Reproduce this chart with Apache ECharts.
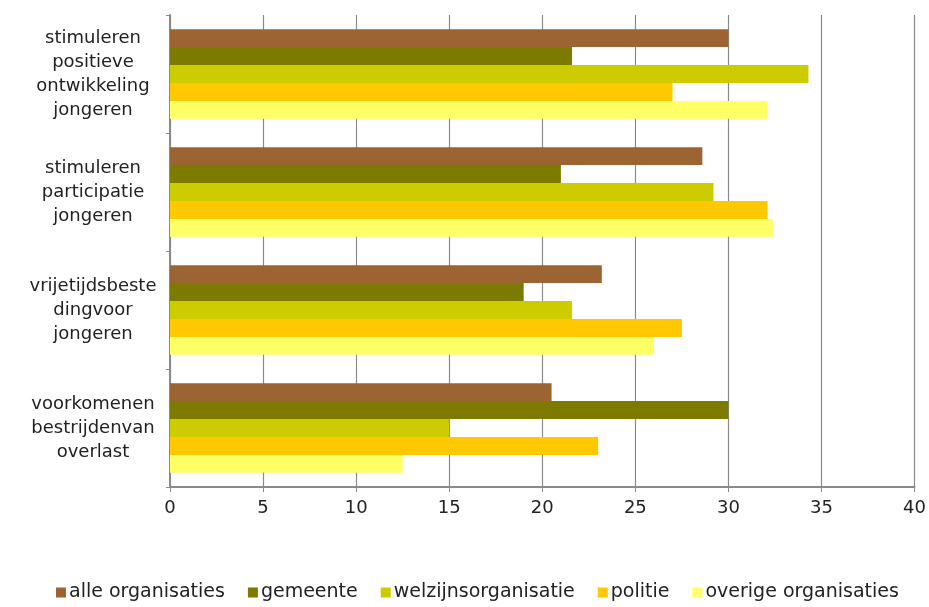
<!DOCTYPE html>
<html>
<head>
<meta charset="utf-8">
<script src="https://cdn.jsdelivr.net/npm/echarts@6/dist/echarts.min.js"></script>
<style>
  html, body { margin: 0; padding: 0; background: #fff; }
  #chart { width: 929px; height: 607px; }
</style>
</head>
<body>
<div id="chart"></div>
<script>
// Themes (top to bottom)
const categories = [
  'stimuleren\npositieve\nontwikkeling\njongeren',
  'stimuleren\nparticipatie\njongeren',
  'vrijetijdsbeste\ndingvoor\njongeren',
  'voorkomenen\nbestrijdenvan\noverlast'
];

const seriesNames = ['alle organisaties', 'gemeente', 'welzijnsorganisatie', 'politie', 'overige organisaties'];

// Percentages per organisation type, one value per theme
const alleOrganisaties    = [30.0, 28.6, 23.2, 20.5];
const gemeente            = [21.6, 21.0, 19.0, 30.0];
const welzijnsorganisatie = [34.3, 29.2, 21.6, 15.0];
const politie             = [27.0, 32.1, 27.5, 23.0];
const overigeOrganisaties = [32.1, 32.4, 26.0, 12.5];

const xTicks = [0, 5, 10, 15, 20, 25, 30, 35, 40];

const seriesData = [alleOrganisaties, gemeente, welzijnsorganisatie, politie, overigeOrganisaties];
const colors = ['#9C6433', '#7D7A00', '#CCCC00', '#FFC800', '#FFFF66'];

const chart = echarts.init(document.getElementById('chart'), null, { renderer: 'canvas' });

const font = 'DejaVu Sans, Verdana, sans-serif';

chart.setOption({
  animation: false,
  backgroundColor: '#ffffff',
  color: colors,
  grid: { left: 170, right: 13, top: 15, bottom: 120, containLabel: false },
  legend: {
    top: 578,
    left: 51,
    itemWidth: 10,
    itemHeight: 10,
    itemGap: 23,
    icon: 'rect',
    textStyle: { fontFamily: font, fontSize: 19, color: '#222', padding: [0, 0, 0, -2] },
    data: seriesNames
  },
  xAxis: {
    type: 'value',
    min: xTicks[0],
    max: xTicks[xTicks.length - 1],
    interval: 5,
    axisLine: { show: true, lineStyle: { color: '#8a8a8a', width: 2 } },
    axisTick: { show: true, length: 5, lineStyle: { color: '#8a8a8a' } },
    splitLine: { show: true, lineStyle: { color: '#8a8a8a', width: 1.2 } },
    axisLabel: { fontFamily: font, fontSize: 18, color: '#222', margin: 12 }
  },
  yAxis: {
    type: 'category',
    data: categories,
    inverse: true,
    axisLine: { show: true, lineStyle: { color: '#8a8a8a', width: 2 } },
    axisTick: { show: true, length: 4, lineStyle: { color: '#8a8a8a' } },
    axisLabel: {
      fontFamily: font, fontSize: 18, color: '#222',
      align: 'center', margin: 77, lineHeight: 24
    }
  },
  series: seriesNames.map((name, i) => ({
    name: name,
    type: 'bar',
    data: seriesData[i],
    barGap: '0%',
    barCategoryGap: '24%',
    itemStyle: { color: colors[i] }
  }))
});
</script>
</body>
</html>
